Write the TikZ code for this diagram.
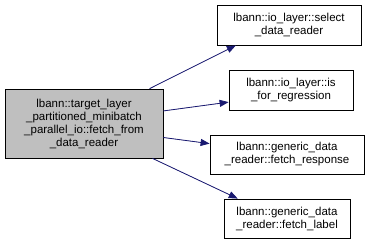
\documentclass[tikz,border=0pt]{standalone}
\usepackage{fontspec}
\setmainfont{Liberation Sans}
\usetikzlibrary{arrows.meta}

\definecolor{edgeblue}{RGB}{25,25,112}
\definecolor{callergrey}{RGB}{191,191,191}

\begin{document}
\begin{tikzpicture}[
  x=1pt, y=1pt,
  fn/.style={draw, fill=white, line width=0.8pt, align=center, inner sep=2pt,
             font=\fontsize{11.5}{13}\selectfont},
  arr/.style={-{Stealth[length=9pt, width=7pt, inset=0pt]}, draw=edgeblue,
              fill=edgeblue, line width=0.8pt}
]
  \useasboundingbox (0,0) rectangle (379,-247);

  % caller
  \node[fn, fill=callergrey, minimum width=158, minimum height=69] (main) at (84,-123.5)
    {lbann::target\_layer\\\_partitioned\_minibatch\\\_parallel\_io::fetch\_from\\\_data\_reader};

  % callees
  \node[fn, minimum width=144, minimum height=40] (sel)  at (289,-25)
    {lbann::io\_layer::select\\\_data\_reader};
  \node[fn, minimum width=124, minimum height=40] (reg)  at (291,-90)
    {lbann::io\_layer::is\\\_for\_regression};
  \node[fn, minimum width=154, minimum height=39] (resp) at (287,-154.5)
    {lbann::generic\_data\\\_reader::fetch\_response};
  \node[fn, minimum width=126, minimum height=39] (lab)  at (287,-218.5)
    {lbann::generic\_data\\\_reader::fetch\_label};

  \draw[arr] (main.28)  -- (sel.201);
  \draw[arr] (main.9)   -- (reg.191);
  \draw[arr] (main.-10) -- (resp.172);
  \draw[arr] (main.-27) -- (lab.158);
\end{tikzpicture}
\end{document}
